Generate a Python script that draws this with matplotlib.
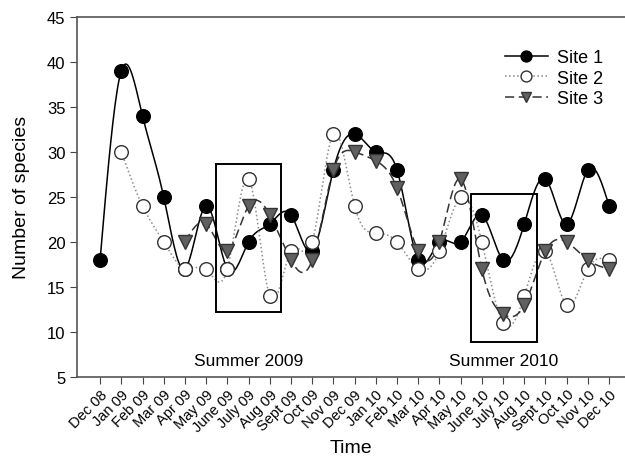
import numpy as np
import matplotlib
matplotlib.use("Agg")
import matplotlib.pyplot as plt
from matplotlib.lines import Line2D
from matplotlib.patches import Rectangle

plt.rcParams['font.family'] = ['Liberation Sans', 'DejaVu Sans']

months = ['Dec 08', 'Jan 09', 'Feb 09', 'Mar 09', 'Apr 09', 'May 09', 'June 09',
          'July 09', 'Aug 09', 'Sept 09', 'Oct 09', 'Nov 09', 'Dec 09', 'Jan 10',
          'Feb 10', 'Mar 10', 'Apr 10', 'May 10', 'June 10', 'July 10', 'Aug 10',
          'Sept 10', 'Oct 10', 'Nov 10', 'Dec 10']
nan = np.nan
site1 = [18, 39, 34, 25, 17, 24, 17, 20, 22, 23, 19, 28, 32, 30, 28, 18, 20, 20,
         23, 18, 22, 27, 22, 28, 24]
site2 = [nan, 30, 24, 20, 17, 17, 17, 27, 14, 19, 20, 32, 24, 21, 20, 17, 19, 25,
         20, 11, 14, 19, 13, 17, 18]
site3 = [nan, nan, nan, nan, 20, 22, 19, 24, 23, 18, 18, 28, 30, 29, 26, 19, 20,
         27, 17, 12, 13, 19, 20, 18, 17]
summers = ['Summer 2009', 'Summer 2010']


def natural_spline(x, y, per=20):
    # natural cubic spline through the points, for drawing the smooth lines
    x = np.asarray(x, float)
    y = np.asarray(y, float)
    n = len(x)
    h = np.diff(x)
    A = np.zeros((n, n))
    b = np.zeros(n)
    A[0, 0] = 1
    A[-1, -1] = 1
    for i in range(1, n - 1):
        A[i, i - 1] = h[i - 1]
        A[i, i] = 2 * (h[i - 1] + h[i])
        A[i, i + 1] = h[i]
        b[i] = 6 * ((y[i + 1] - y[i]) / h[i] - (y[i] - y[i - 1]) / h[i - 1])
    M = np.linalg.solve(A, b)
    xs, ys = [], []
    for i in range(n - 1):
        t = np.linspace(x[i], x[i + 1], per, endpoint=(i == n - 2))
        a = x[i + 1] - t
        c = t - x[i]
        s = (M[i] * a ** 3 + M[i + 1] * c ** 3) / (6 * h[i]) \
            + (y[i] / h[i] - M[i] * h[i] / 6) * a \
            + (y[i + 1] / h[i] - M[i + 1] * h[i] / 6) * c
        xs.append(t)
        ys.append(s)
    return np.concatenate(xs), np.concatenate(ys)


fig = plt.figure(figsize=(6.25, 4.6), dpi=100)
ax = fig.add_axes([0.1235, 0.178, 0.8765, 0.7835])

x = np.arange(len(months))
series = [
    (site1, 'Site 1', dict(color='black', ls='-', lw=1.1),
     dict(marker='o', mfc='black', mec='black', ms=9.8)),
    (site2, 'Site 2', dict(color='#8c8c8c', ls=':', lw=1.1),
     dict(marker='o', mfc='white', mec='#333333', ms=9.8)),
    (site3, 'Site 3', dict(color='#333333', ls=(0, (6, 3)), lw=1.1),
     dict(marker='v', mfc='#606060', mec='#333333', ms=9.8)),
]

handles = []
for vals, name, lstyle, mstyle in series:
    v = np.asarray(vals, float)
    ok = ~np.isnan(v)
    sx, sy = natural_spline(x[ok], v[ok])
    ax.plot(sx, sy, zorder=2, **lstyle)
    ax.plot(x[ok], v[ok], ls='none', mew=1, zorder=3, **mstyle)
    handles.append(Line2D([], [], label=name, mew=1, **lstyle, **mstyle))

# summer boxes
ax.add_patch(Rectangle((5.45, 12.2), 3.1, 16.4, fill=False, ec='black', lw=1.4, zorder=4))
ax.add_patch(Rectangle((17.5, 8.9), 3.1, 16.4, fill=False, ec='black', lw=1.4, zorder=4))
ax.text(7.0, 6.8, summers[0], ha='center', va='center', fontsize=12.5)
ax.text(19.05, 6.8, summers[1], ha='center', va='center', fontsize=12.5)

ax.set_xlim(-1.08, 24.75)
ax.set_ylim(5, 45)
ax.set_yticks(range(5, 46, 5))
ax.set_xticks(x)
ax.set_xticklabels(months, rotation=45, ha='right', rotation_mode='anchor', fontsize=10.5)
ax.tick_params(axis='y', labelsize=12, direction='out', length=5, color='#444444')
ax.tick_params(axis='x', direction='out', length=5, color='#444444', pad=2)
for side in ['left', 'bottom', 'top']:
    ax.spines[side].set_color('#555555')
    ax.spines[side].set_linewidth(1.2)
ax.spines['right'].set_visible(False)

ax.set_ylabel('Number of species', fontsize=14, labelpad=12)
ax.set_xlabel('Time', fontsize=14, labelpad=4)

ax.legend(handles=handles, loc='upper right', bbox_to_anchor=(0.99, 0.955),
          frameon=False, fontsize=13, handlelength=2.4, handletextpad=0.5,
          labelspacing=0.2, markerscale=0.8)

fig.savefig('out.png', dpi=100)
